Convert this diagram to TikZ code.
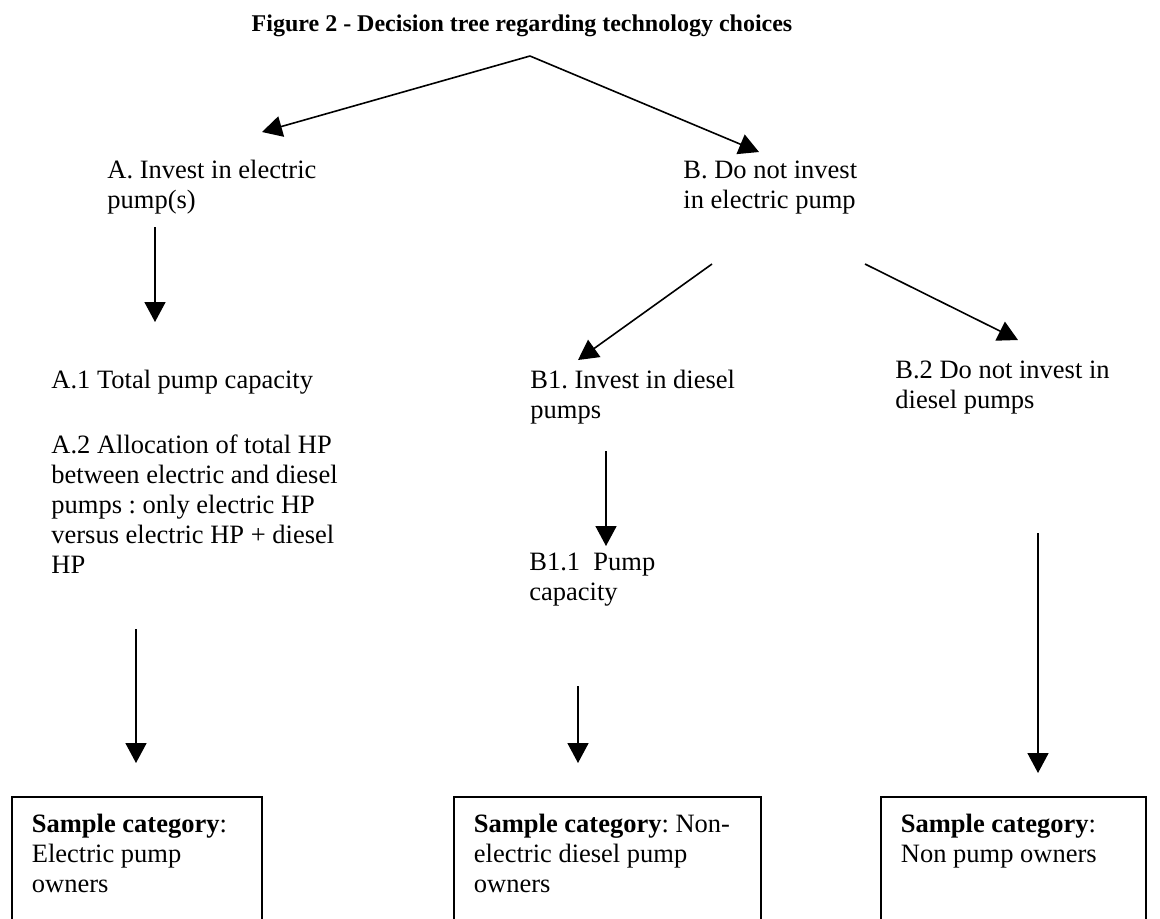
\documentclass[tikz,border=0pt]{standalone}
\usepackage{fontspec}
\setmainfont{Liberation Serif}
\usetikzlibrary{arrows.meta}
\frenchspacing
\newcommand{\bodysize}{\fontsize{13.25pt}{15pt}\selectfont}

\begin{document}
\begin{tikzpicture}[x=0.5pt, y=-0.5pt, >={Triangle[length=10pt,width=10.5pt]},
  lbl/.style={anchor=base west, inner sep=0pt, text width=150pt, align=flush left, font=\bodysize},
  catbox/.style={draw, line width=0.9pt, anchor=base west, text width=#1, align=flush left,
    inner xsep=10pt, inner ysep=8.5pt, text height=9pt, text depth=50pt, font=\bodysize},
  arr/.style={->, line width=0.8pt}]
  \useasboundingbox (0,0) rectangle (1160,918);
  \fill[white] (0,0) rectangle (1160,918);
  \clip (0,0) rectangle (1160,918);

  % title
  \node[anchor=base, inner sep=0pt, font=\fontsize{12pt}{14pt}\selectfont\bfseries] (title) at (522,31)
    {Figure 2 - Decision tree regarding technology choices};

  % decisions
  \node[lbl] (a)   at (107,178) {A. Invest in electric\\pump(s)};
  \node[lbl] (b)   at (683,178) {B. Do not invest\\in electric pump};
  \node[lbl] (a1)  at (51,388)  {A.1 Total pump capacity};
  \node[lbl] (a2)  at (51,453)  {A.2 Allocation of total HP\\between electric and diesel\\pumps : only electric HP\\versus electric HP + diesel\\HP};
  \node[lbl] (b1)  at (530,388) {B1. Invest in diesel\\pumps};
  \node[lbl] (b2)  at (895,378) {B.2 Do not invest in\\diesel pumps};
  \node[lbl] (b11) at (529,570) {B1.1\ \ Pump\\capacity};

  % sample categories
  \node[catbox=105pt]   (elec)    at (11,832)  {\textbf{Sample category}:\\Electric pump\\owners};
  \node[catbox=133.5pt] (diesel)  at (453,832) {\textbf{Sample category}: Non-\\electric diesel pump\\owners};
  \node[catbox=112.5pt] (nonpump) at (880,832) {\textbf{Sample category}:\\Non pump owners};

  % arrow ends
  \coordinate (root) at (530,56);
  \coordinate (aTip) at (262,132);
  \coordinate (bTip) at (759,152);
  \coordinate (aDown) at (155,227);   \coordinate (aUp) at (155,322);
  \coordinate (b1Out) at (712,264);   \coordinate (b1Tip) at (578,360);
  \coordinate (b2Out) at (865,264);   \coordinate (b2Tip) at (1018,340);
  \coordinate (b1Down) at (606,451);  \coordinate (b1Up) at (606,546);
  \coordinate (elecOut) at (136,629); \coordinate (elecTip) at (136,763);
  \coordinate (dslOut) at (578,686);  \coordinate (dslTip) at (578,763);
  \coordinate (npOut) at (1038,533);  \coordinate (npTip) at (1038,773);

  \draw[arr] (root) -- (aTip);
  \draw[arr] (root) -- (bTip);
  \draw[arr] (aDown) -- (aUp);
  \draw[arr] (b1Out) -- (b1Tip);
  \draw[arr] (b2Out) -- (b2Tip);
  \draw[arr] (b1Down) -- (b1Up);
  \draw[arr] (elecOut) -- (elecTip);
  \draw[arr] (dslOut) -- (dslTip);
  \draw[arr] (npOut) -- (npTip);
\end{tikzpicture}
\end{document}
